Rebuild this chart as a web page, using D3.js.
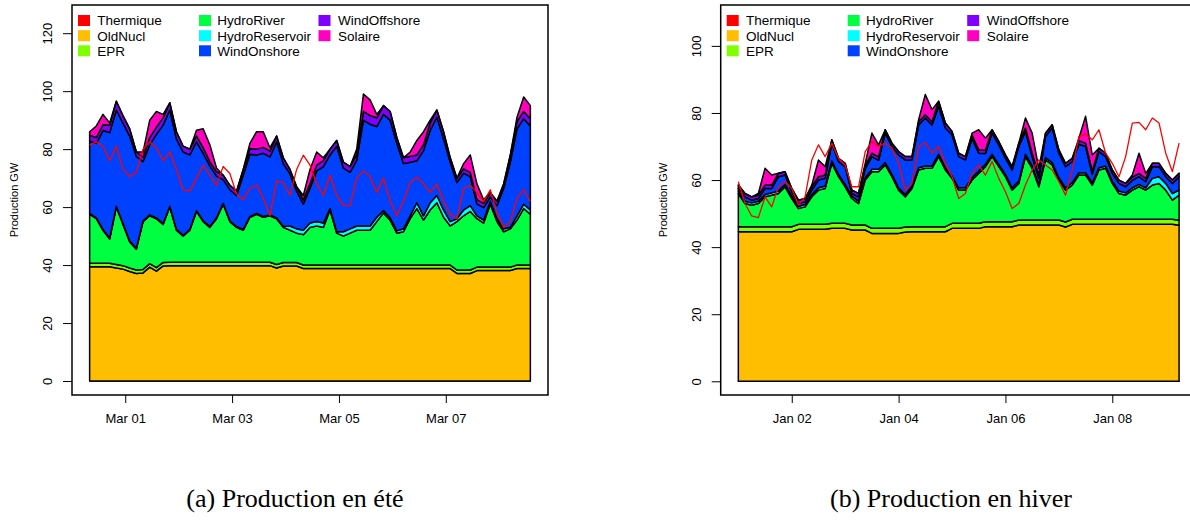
<!DOCTYPE html>
<html>
<head>
<meta charset="utf-8">
<script src="https://cdn.jsdelivr.net/npm/d3@7"></script>
<style>
  body { margin: 0; background: #fff; }
  svg { display: block; }
</style>
</head>
<body>
<svg id="chart" width="1190" height="522"></svg>
<script>
// Production sources, stacked bottom to top in this order
const seriesNames = ["Thermique", "OldNucl", "EPR", "HydroRiver", "HydroReservoir", "WindOnshore", "WindOffshore", "Solaire"];
const seriesColors = ["#FF0000", "#FFBF00", "#80FF00", "#00FF40", "#00FFFF", "#0040FF", "#8000FF", "#FF00BF"];

// ---- Summer week (3-hourly values, GW) ----
const summerStart = "2015-02-28T08:00:00Z";
const summerXTicks = ["2015-03-01", "2015-03-03", "2015-03-05", "2015-03-07"];
const summerYTicks = [0, 20, 40, 60, 80, 100, 120];

const summerThermique = [
  0,0,0,0,0,0,0,0,0,0, 0,0,0,0,0,0,0,0,0,0, 0,0,0,0,0,0,0,0,0,0,
  0,0,0,0,0,0,0,0,0,0, 0,0,0,0,0,0,0,0,0,0, 0,0,0,0,0,0,0,0,0,0,
  0,0,0,0,0,0,0];
const summerOldNucl = [
  39.4,39.4,39.4,39.4,39.0,38.6,37.8,37.1,37.3,39.3,
  37.9,39.7,39.8,39.8,39.8,39.8,39.8,39.8,39.8,39.8,
  39.8,39.8,39.8,39.8,39.8,39.8,39.8,39.8,39.0,39.7,
  39.7,39.7,38.8,38.8,38.8,38.8,38.8,38.8,38.8,38.8,
  38.8,38.8,38.8,38.8,38.8,38.8,38.8,38.8,38.8,38.8,
  38.8,38.8,38.8,38.8,38.8,37.1,37.1,37.1,38.1,38.1,
  38.1,38.1,38.1,38.1,38.8,38.8,38.8];
const summerEPR = [
  1.2,1.2,1.2,1.2,1.2,1.2,1.2,1.2,1.2,1.2, 1.2,1.2,1.2,1.2,1.2,1.2,1.2,1.2,1.2,1.2,
  1.2,1.2,1.2,1.2,1.2,1.2,1.2,1.2,1.2,1.2, 1.2,1.2,1.2,1.2,1.2,1.2,1.2,1.2,1.2,1.2,
  1.2,1.2,1.2,1.2,1.2,1.2,1.2,1.2,1.2,1.2, 1.2,1.2,1.2,1.2,1.2,1.2,1.2,1.2,1.2,1.2,
  1.2,1.2,1.2,1.2,1.2,1.2,1.2];
const summerHydroRiver = [
  16.9,15.4,11.4,8.4,19.8,14.2,9.0,7.2,16.5,16.5,
  16.9,13.1,19.0,11.0,9.0,11.0,17.5,14.0,12.0,15.0,
  20.0,14.0,12.0,11.0,15.5,16.5,15.5,16.0,15.8,12.1,
  11.1,10.1,10.5,13.0,13.5,13.0,19.0,11.0,10.0,11.0,
  12.0,12.0,12.0,15.0,18.0,15.5,11.0,11.5,16.0,19.5,
  15.5,19.0,21.5,16.5,13.5,16.7,18.7,20.2,16.7,15.2,
  21.7,15.7,12.2,13.2,15.5,19.5,17.5];
const summerHydroReservoir = [
  0.3,0.3,0.3,0.3,0.3,0.3,0.3,0.3,0.3,0.3,
  0.3,0.3,0.3,0.3,0.3,0.3,0.3,0.3,0.3,0.3,
  0.3,0.3,0.3,0.3,0.3,0.3,0.3,0.3,0.3,0.3,
  1.5,1.5,1.5,1.5,1.5,1.5,0.5,0.5,1.5,1.5,
  1.5,1.5,1.5,1.5,0.8,0.8,0.8,1.0,1.0,2.0,
  1.5,2.5,2.5,2.5,1.5,1.0,2.0,2.0,1.0,1.0,
  1.0,1.0,1.0,0.5,1.5,1.5,1.5];
const summerWindOnshore = [
  25.0,25.7,34.1,36.4,33.2,34.7,36.2,31.7,20.4,24.2,
  28.8,34.0,33.2,31.2,28.7,25.7,23.7,23.2,20.9,14.4,
  8.2,10.7,10.7,18.7,21.4,20.2,21.8,20.0,26.2,21.7,
  18.0,13.0,9.0,12.0,17.5,19.5,18.5,29.5,22.0,19.5,
  22.7,36.5,35.1,31.3,33.2,33.7,30.2,22.5,18.5,14.5,
  22.5,25.0,27.0,24.5,20.5,12.5,12.7,10.0,4.1,4.3,
  1.5,4.5,14.0,22.5,30.0,29.5,29.0];
const summerWindOffshore = [
  2,2,2,2.5,3,2.5,2.5,1.5,1.5,2.5,
  2.5,2.5,2.5,2.5,2,2,2,2,1.5,1.5,
  1.5,1.5,1.5,2,2,2,2,2,2,2,
  1.5,1.5,1.5,1.5,2,2,2,2,2,2,
  2,3,3,3,3,3,2,2,2,2,
  2,2.5,2.5,2.5,1.5,1.5,1.5,1.5,1.5,1.5,
  1.5,1.5,1.5,2.5,2.5,2.5,2.5];
const summerSolaire = [
  1.2,4.0,3.6,0.8,0,0,0,0,1.8,6.0,
  5.4,1.2,0,0,0,0,2.0,6.5,5.8,1.3,
  0,0,0,0,1.8,6.0,5.4,1.2,0,0,
  0,0,1.5,5.0,4.5,1.0,0,0,0,0,
  1.8,6.0,5.4,1.2,0,0,0,0,1.5,5.0,
  4.5,1.0,0,0,0,0,1.8,6.0,5.4,1.2,
  0,0,0,0,1.5,5.0,4.5];
const summerDemand = [
  81.4,82.5,81.0,76.0,81.0,73.0,70.5,72.0,80.0,82.5,
  80.5,76.0,79.0,73.0,66.0,65.5,70.0,74.5,71.0,67.5,
  74.0,71.6,64.5,62.5,66.5,67.6,63.0,57.0,69.0,68.5,
  64.0,73.0,77.9,74.5,68.0,64.0,71.0,64.0,60.5,60.5,
  70.0,72.5,70.5,65.0,70.0,62.0,57.0,62.0,68.5,70.3,
  68.0,65.0,68.0,62.0,57.5,56.0,66.5,67.5,65.0,62.0,
  66.0,58.0,53.0,55.0,63.0,66.0,62.0];

// ---- Winter week (3-hourly values, GW) ----
const winterStart = "2015-01-01T00:00:00Z";
const winterXTicks = ["2015-01-02", "2015-01-04", "2015-01-06", "2015-01-08"];
const winterYTicks = [0, 20, 40, 60, 80, 100];

const winterThermique = [
  0,0,0,0,0,0,0,0,0,0, 0,0,0,0,0,0,0,0,0,0, 0,0,0,0,0,0,0,0,0,0,
  0,0,0,0,0,0,0,0,0,0, 0,0,0,0,0,0,0,0,0,0, 0,0,0,0,0,0,0,0,0,0,
  0,0,0,0,0,0,0];
const winterOldNucl = [
  44.6,44.6,44.6,44.6,44.6,44.6,44.6,44.6,44.6,45.3,
  45.3,45.3,45.3,45.3,45.6,45.6,45.6,45.1,45.1,45.1,
  44.1,44.1,44.1,44.1,44.1,44.5,44.6,44.6,44.6,44.6,
  44.6,44.6,45.6,45.6,45.6,45.6,45.6,46.1,46.1,46.1,
  46.1,46.1,46.6,46.6,46.6,46.6,46.6,46.6,46.6,46.0,
  46.8,46.8,46.8,46.8,46.8,46.8,46.8,46.8,46.8,46.8,
  46.8,46.8,46.8,46.8,46.8,46.8,46.5];
const winterEPR = [
  1.5,1.5,1.5,1.5,1.5,1.5,1.5,1.5,1.5,1.5, 1.5,1.5,1.5,1.5,1.5,1.5,1.5,1.5,1.5,1.5,
  1.5,1.5,1.5,1.5,1.5,1.5,1.5,1.5,1.5,1.5, 1.5,1.5,1.5,1.5,1.5,1.5,1.5,1.5,1.5,1.5,
  1.5,1.5,1.5,1.5,1.5,1.5,1.5,1.5,1.5,1.5, 1.5,1.5,1.5,1.5,1.5,1.5,1.5,1.5,1.5,1.5,
  1.5,1.5,1.5,1.5,1.5,1.5,1.5];
const winterHydroRiver = [
  9.9,6.9,6.4,6.9,8.9,9.4,9.9,11.9,8.4,4.7,
  5.2,8.2,10.2,10.7,17.9,13.9,10.9,7.9,6.4,13.4,
  16.9,16.9,18.9,15.4,11.4,9.0,11.4,16.9,17.4,17.4,
  20.9,16.9,13.4,9.9,9.9,12.9,14.9,16.4,19.4,16.4,
  13.4,9.4,10.9,18.9,15.4,9.9,17.9,16.4,11.9,9.5,
  10.2,13.2,13.2,10.2,14.7,15.2,10.7,7.7,7.2,8.7,
  9.7,8.7,10.2,10.7,8.7,5.7,7.5];
const winterHydroReservoir = [
  0.7,0.7,0.7,0.7,0.7,0.7,0.7,0.7,0.7,0.7, 0.7,0.7,0.7,0.7,0.7,0.7,0.7,0.7,0.7,0.7,
  0.7,0.7,0.7,0.7,0.7,0.7,0.7,0.7,0.7,0.7, 0.7,0.7,0.7,0.7,0.7,0.7,0.7,0.7,0.7,0.7,
  0.7,0.7,0.7,0.7,0.7,0.7,0.7,0.7,0.7,0.7, 0.7,0.7,0.7,0.7,0.7,0.7,0.7,0.7,0.7,0.7,
  0.7,0.7,2.0,2.0,2.0,2.0,1.5];
const winterWindOnshore = [
  0.8,1.3,0.8,0.8,1.8,1.3,4.3,2.8,1.3,0.8,
  0.8,1.3,2.3,2.3,5.3,3.8,5.3,0.8,1.3,2.7,
  3.8,2.7,8.8,8.3,9.8,10.3,7.8,12.7,14.3,12.2,
  14.3,11.8,12.3,9.3,8.3,11.7,5.3,3.2,6.3,5.8,
  4.8,5.3,10.3,6.8,2.8,1.8,6.3,10.3,7.3,6.3,
  6.3,8.5,7.8,2.5,4.8,2.8,2.3,2.3,1.8,2.2,
  2.3,1.8,3.5,3.0,2.0,3.0,4.0];
const winterWindOffshore = [
  1,1,1,1,1,1,1,1,1,1, 1,1,1,1,1,1,1,1,1,1, 1,1,1,1,1,1,1,1,1,1,
  1.5,1.5,1,1,1,1,1,1,1,1, 1,1,1,1,1,1,1,1,1,1, 1,1,1,1,1,1,1,1,1,1,
  1,1,1,1,1,1,1];
const winterSolaire = [
  0,0,0,0.5,5,3,0,0,0,0,
  0,0.5,5,2.5,0,0,0,0,0,0.6,
  6,3.6,0,0,0,0,0,0.6,6,3.6,
  0,0,0,0,0,0.6,6,3.6,0,0,
  0,0,0,3,6,2,0,0,0,0,
  0,0.8,8,4.8,0,0,0,0,0,0.6,
  6,1.5,0,0,0,0,0];
const winterDemand = [
  59.5,53.0,49.3,48.8,55.0,52.0,58.0,59.5,57.5,52.5,
  55.0,66.0,70.5,67.0,71.0,66.5,64.5,58.0,58.0,68.5,
  71.5,70.0,71.0,69.5,65.0,57.0,59.0,70.0,71.2,68.0,
  70.0,65.0,61.0,54.5,56.0,62.0,64.5,61.5,65.5,60.5,
  56.5,51.5,53.0,58.5,63.0,66.0,64.5,63.0,59.5,55.5,
  63.0,73.0,73.7,72.0,75.0,68.0,65.0,61.0,67.0,77.0,
  77.2,75.0,78.5,77.0,68.0,62.5,71.0];

// ---- drawing ----
const SANS = "'Liberation Sans', Arial, Helvetica, sans-serif";
const SERIF = "'Liberation Serif', 'Times New Roman', serif";
const svg = d3.select("#chart");

function buildRows(start, cols) {
  const t0 = new Date(start);
  return cols[0].map((_, i) => {
    const row = { time: d3.utcHour.offset(t0, 3 * i) };
    seriesNames.forEach((k, j) => { row[k] = cols[j][i]; });
    return row;
  });
}

function drawPanel(p) {
  const g = svg.append("g");
  const rows = buildRows(p.start, p.cols);
  const t0 = rows[0].time, t1 = rows[rows.length - 1].time;
  const pad = (t1 - t0) * 0.04;

  const x = d3.scaleUtc()
    .domain([new Date(+t0 - pad), new Date(+t1 + pad)])
    .range([p.box.x0, p.box.x1]);
  const y = d3.scaleLinear()
    .domain([0, p.yRef])
    .range([p.zeroPx, p.refPx]);

  // stacked production polygons with black outlines
  const stacked = d3.stack().keys(seriesNames)(rows);
  const area = d3.area()
    .x(d => x(d.data.time))
    .y0(d => y(d[0]))
    .y1(d => y(d[1]));
  g.selectAll("path.layer")
    .data(stacked)
    .join("path")
    .attr("class", "layer")
    .attr("d", area)
    .attr("fill", (d, i) => seriesColors[i])
    .attr("stroke", "#000")
    .attr("stroke-width", 1.5)
    .attr("stroke-linejoin", "round");

  // consumption curve
  const line = d3.line()
    .x((d, i) => x(rows[i].time))
    .y(d => y(d));
  g.append("path")
    .attr("d", line(p.demand))
    .attr("fill", "none")
    .attr("stroke", "#FF0000")
    .attr("stroke-width", 1.3)
    .attr("stroke-linejoin", "round");

  // x axis
  const xa = g.append("g")
    .attr("transform", `translate(0,${p.box.y1})`)
    .call(d3.axisBottom(x)
      .tickValues(p.xTicks.map(s => new Date(s + "T00:00:00Z")))
      .tickFormat(d3.utcFormat("%b %d"))
      .tickSize(8));
  xa.select(".domain").remove();
  xa.selectAll(".tick line").attr("stroke", "#000").attr("stroke-width", 1);
  xa.selectAll(".tick text")
    .attr("y", 28).attr("dy", 0)
    .attr("fill", "#000")
    .style("font-family", SANS).style("font-size", "13px");

  // y axis with vertical labels
  const ya = g.append("g")
    .attr("transform", `translate(${p.box.x0},0)`)
    .call(d3.axisLeft(y).tickValues(p.yTicks).tickSize(9));
  ya.select(".domain").remove();
  ya.selectAll(".tick line").attr("stroke", "#000").attr("stroke-width", 1);
  ya.selectAll(".tick text")
    .attr("transform", "rotate(-90)")
    .attr("x", 0).attr("y", -24.5).attr("dy", "0.35em")
    .attr("text-anchor", "middle")
    .attr("fill", "#000")
    .style("font-family", SANS).style("font-size", "13px");

  // y title
  const cy = (p.box.y0 + p.box.y1) / 2;
  g.append("text")
    .attr("transform", `translate(${p.box.x0 - 58},${cy}) rotate(-90)`)
    .attr("text-anchor", "middle")
    .attr("dy", "0.35em")
    .style("font-family", SANS).style("font-size", "11px")
    .text("Production GW");

  // frame
  g.append("rect")
    .attr("x", p.box.x0).attr("y", p.box.y0)
    .attr("width", p.box.x1 - p.box.x0).attr("height", p.box.y1 - p.box.y0)
    .attr("fill", "none").attr("stroke", "#000").attr("stroke-width", 1.5);

  // legend, three columns
  const swatchX = [6, 127, 246.5], textX = [25.3, 145.3, 266], rowY = [20.5, 35.7, 50.8];
  const lg = g.append("g").attr("transform", `translate(${p.box.x0},0)`);
  seriesNames.forEach((name, i) => {
    const c = Math.floor(i / 3), r = i % 3;
    lg.append("rect")
      .attr("x", swatchX[c]).attr("y", rowY[r] - 5.5)
      .attr("width", 12).attr("height", 11)
      .attr("fill", seriesColors[i]);
    lg.append("text")
      .attr("x", textX[c]).attr("y", rowY[r])
      .attr("dy", "0.36em")
      .style("font-family", SANS).style("font-size", "13.5px")
      .text(name);
  });

  // sub-caption
  svg.append("text")
    .attr("x", p.captionX).attr("y", 507)
    .attr("text-anchor", "middle")
    .style("font-family", SERIF).style("font-size", "26px")
    .text(p.caption);
}

drawPanel({
  start: summerStart,
  cols: [summerThermique, summerOldNucl, summerEPR, summerHydroRiver, summerHydroReservoir,
         summerWindOnshore, summerWindOffshore, summerSolaire],
  demand: summerDemand,
  xTicks: summerXTicks,
  yTicks: summerYTicks,
  box: { x0: 72, x1: 548, y0: 5, y1: 395 },
  yRef: 120, zeroPx: 381, refPx: 33.2,
  caption: "(a) Production en été",
  captionX: 295
});

drawPanel({
  start: winterStart,
  cols: [winterThermique, winterOldNucl, winterEPR, winterHydroRiver, winterHydroReservoir,
         winterWindOnshore, winterWindOffshore, winterSolaire],
  demand: winterDemand,
  xTicks: winterXTicks,
  yTicks: winterYTicks,
  box: { x0: 720.7, x1: 1196.7, y0: 5, y1: 395 },
  yRef: 100, zeroPx: 381.3, refPx: 45.9,
  caption: "(b) Production en hiver",
  captionX: 951
});
</script>
</body>
</html>
